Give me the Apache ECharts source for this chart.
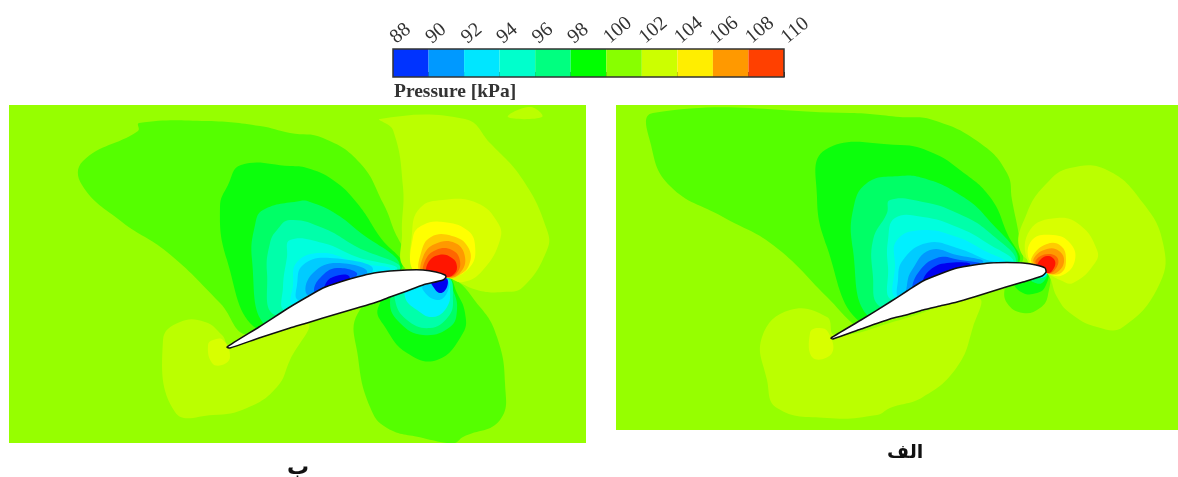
<!DOCTYPE html>
<html><head><meta charset="utf-8">
<style>html,body{margin:0;padding:0;background:#fff}#c{width:1178px;height:477px;filter:blur(0.7px)}</style>
<script src="https://cdn.jsdelivr.net/npm/echarts@6/dist/echarts.min.js"></script>
</head><body><div id="c"></div>
<script>
// Colour bar
const pressureTicks = [88,90,92,94,96,98,100,102,104,106,108,110];
const legendColors = ['#0033ff','#0099ff','#00e6ff','#00ffcc','#00ff80','#00ff00','#88ff00','#ccff00','#ffee00','#ff9900','#ff4000'];
const tickLabels = pressureTicks.map(String);
const panelBackground = '#96ff00';

// Contour colours, low to high pressure
const cB0='#0000f0', cB1='#0050ff', cB2='#0099ff', cB3='#00ccff', cC='#00f0ff', cT1='#00ffdd', cT2='#00ffaa', cG3='#00ff66', cG2='#0cff0c', cG1='#55ff00';
const cY1='#bbff00', cY2='#d8ff00', cY3='#ffff00', cO1='#ffcc00', cO2='#ff9900', cO3='#ff6600', cR='#ff1500';

// Panel "ب" contours, panel units
const bUp1=[[130,18],[198,16],[251,21],[281,28],[314,33],[351,58],[374,98],[383,120],[396,163],[351,185],[291,207],[239,230],[211,198],[158,147],[113,117],[73,80],[74,56],[129,26]];
const bUp2=[[232,60],[281,61],[298,63],[324,75],[348,98],[371,132],[393,163],[342,185],[291,207],[248,224],[218,155],[211,102],[219,80]];
const bUp3=[[254,105],[291,96],[301,97],[324,107],[348,125],[391,163],[341,185],[291,205],[256,220],[243,155],[246,120]];
const bUp4=[[268,125],[281,115],[314,123],[348,142],[391,165],[321,195],[266,210],[258,168],[261,138]];
const bUp5=[[278,152],[281,135],[314,138],[348,152],[388,165],[321,190],[276,205],[274,182]];
const bUp6=[[288,157],[314,148],[348,158],[381,165],[321,190],[284,200],[284,180]];
const bUp7=[[294,160],[321,153],[364,165],[311,190],[289,195],[288,180]];
const bUp8=[[304,168],[328,158],[358,168],[311,190],[297,188]];
const bUp9=[[311,173],[328,163],[348,170],[311,188],[305,186]];
const bUp10=[[316,180],[324,172],[340,171],[336,182],[316,188]];
const bLow1=[[349,208],[349,252],[361,302],[378,323],[414,333],[438,338],[446,338],[454,332],[491,315],[496,278],[488,232],[471,202],[438,172],[391,180]];
const bLow2=[[369,203],[376,222],[398,248],[428,255],[454,228],[456,208],[448,188],[438,172],[391,180]];
const bLow3=[[381,198],[391,218],[414,230],[441,222],[448,205],[444,185],[436,172],[391,180]];
const bLow4=[[386,195],[398,215],[421,223],[439,212],[444,195],[438,172],[391,180]];
const bLow5=[[396,192],[408,205],[424,212],[438,202],[441,185],[437,173],[401,178]];
const bLow6=[[414,185],[428,195],[438,188],[438,175],[416,178]];
const bLow7=[[423,180],[431,188],[438,182],[437,173],[423,177]];
const bHigh0=[[499,12],[521,2],[533,12]];
const bHigh1=[[371,14],[456,14],[481,38],[514,75],[538,125],[538,145],[514,182],[494,187],[468,185],[438,172],[396,163],[393,128],[394,82],[384,25]];
const bHigh2=[[411,103],[434,95],[468,98],[489,118],[491,135],[474,165],[454,177],[438,172],[406,165],[403,128]];
const bHigh3=[[404,132],[414,120],[434,117],[458,125],[466,140],[461,162],[438,173],[406,168]];
const bHigh4=[[412,148],[422,132],[443,131],[459,142],[460,160],[447,172],[438,173],[412,168]];
const bHigh5=[[414,152],[426,139],[446,138],[456,152],[451,168],[438,173],[414,170]];
const bHigh6=[[416,156],[427,145],[443,145],[451,156],[447,169],[437,172],[416,170]];
const bHigh7=[[419,158],[430,150],[443,153],[448,162],[444,170],[437,172],[419,170]];
const bTail1=[[171,217],[196,217],[213,230],[221,240],[298,218],[281,255],[268,282],[238,303],[204,310],[166,307],[154,235]];
const bTail2=[[199,240],[204,235],[214,235],[221,252],[213,260],[203,258]];
const bFoil=[[218,242],[250,222],[281,202],[298,192],[314,183],[331,177],[348,172],[365,168],[381,166],[398,165],[414,165],[427,167],[436,170],[437,172],[434,175],[414,180],[398,186],[381,192],[365,198],[348,203],[331,208],[314,213],[298,218],[281,223],[250,233],[221,243]];

// Panel "الف" contours, panel units
const aUp1=[[37,8],[234,8],[284,12],[317,15],[364,38],[391,68],[396,95],[404,138],[404,159],[344,180],[284,202],[242,220],[236,218],[211,192],[157,140],[107,112],[54,81],[35,40]];
const aUp2=[[209,45],[284,40],[317,48],[344,65],[374,92],[391,128],[402,159],[344,180],[284,202],[244,217],[211,142],[201,92]];
const aUp3=[[251,78],[284,71],[307,73],[341,88],[371,113],[401,159],[344,180],[284,200],[251,210],[237,145],[237,105]];
const aUp4=[[271,108],[274,95],[307,97],[341,108],[374,128],[399,159],[344,180],[284,200],[262,200],[257,172],[257,135]];
const aUp5=[[279,113],[307,112],[341,122],[371,138],[397,159],[344,180],[277,195],[272,162],[272,135]];
const aUp6=[[281,135],[307,125],[341,132],[367,145],[389,159],[334,180],[281,193],[279,160]];
const aUp7=[[287,155],[311,138],[341,143],[371,155],[384,159],[324,180],[284,193],[282,175]];
const aUp8=[[296,165],[314,145],[341,150],[367,158],[314,180],[292,190],[291,180]];
const aUp9=[[302,168],[321,153],[344,155],[364,160],[309,180],[297,185]];
const aUp10=[[306,178],[314,165],[331,158],[354,160],[309,180]];
const aLow1=[[389,182],[391,198],[407,208],[424,203],[432,190],[431,168],[394,180]];
const aLow2=[[399,178],[407,188],[421,188],[429,182],[431,168]];
const aLow3=[[417,177],[426,178],[431,168],[414,173]];
const aLow4=[[424,173],[430,171],[431,167]];
const aHigh1=[[454,63],[491,65],[527,98],[547,138],[544,178],[507,222],[481,222],[454,208],[441,192],[431,168],[404,145],[411,108],[431,78]];
const aHigh2=[[414,125],[441,113],[464,120],[481,145],[479,158],[457,178],[444,175],[431,168],[412,157]];
const aHigh3=[[416,135],[437,130],[454,138],[459,155],[447,170],[431,168],[414,157]];
const aHigh4=[[416,152],[431,139],[445,141],[450,155],[445,168],[431,168],[418,161]];
const aHigh5=[[418,153],[431,144],[443,146],[448,157],[440,168],[431,168],[420,161]];
const aHigh6=[[420,155],[432,149],[442,154],[438,166],[430,168],[422,162]];
const aHigh7=[[422,158],[431,151],[439,156],[436,166],[430,168],[422,165]];
const aTail1=[[174,205],[211,212],[219,230],[284,215],[362,193],[357,222],[341,262],[307,292],[274,303],[261,310],[211,313],[161,303],[151,275],[146,232]];
const aTail2=[[194,228],[202,223],[212,227],[216,248],[197,253]];
const aFoil=[[215,233],[245,215],[274,197],[291,186],[307,176],[324,169],[341,163],[358,160],[374,158],[391,157.5],[407,158],[420,160],[429,163],[430,167],[426,171],[407,177],[390,182],[374,187],[358,192],[341,197],[324,201],[307,205],[290,210],[274,214],[245,224],[217,234]];

const panelB=[[bUp1,cG1],[bUp2,cG2],[bUp3,cG3],[bUp4,cT2],[bUp5,cT1],[bUp6,cC],[bUp7,cB3],[bUp8,cB2],[bUp9,cB1],[bUp10,cB0],
  [bLow1,cG1],[bLow2,cG2],[bLow3,cG3],[bLow4,cT2],[bLow5,cC],[bLow6,cB3],[bLow7,cB0],
  [bHigh0,cY1],[bHigh1,cY1],[bHigh2,cY2],[bHigh3,cY3],[bHigh4,cO1],[bHigh5,cO2],[bHigh6,cO3],[bHigh7,cR],
  [bTail1,cY1],[bTail2,cY2]];
const panelA=[[aUp1,cG1],[aUp2,cG2],[aUp3,cG3],[aUp4,cT2],[aUp5,cT1],[aUp6,cC],[aUp7,cB3],[aUp8,cB2],[aUp9,cB1],[aUp10,cB0],
  [aLow1,cG1],[aLow2,cG2],[aLow3,cG3],[aLow4,cC],
  [aHigh1,cY1],[aHigh2,cY2],[aHigh3,cY3],[aHigh4,cO1],[aHigh5,cO2],[aHigh6,cO3],[aHigh7,cR],
  [aTail1,cY1],[aTail2,cY2]];

function contourSeries(idx, bands, foil, w, h){
  const items=[{pts:[[0,0],[w,0],[w,h],[0,h]],fill:panelBackground,smooth:0}]
    .concat(bands.map(b=>({pts:b[0],fill:b[1],smooth:0.45})))
    .concat([{pts:foil,fill:'#fff',stroke:'#111',smooth:0.2}]);
  return {type:'custom',coordinateSystem:'cartesian2d',xAxisIndex:idx,yAxisIndex:idx,clip:true,silent:true,
    data:items.map((_,i)=>[i]),
    renderItem(p,api){
      const it=items[api.value(0)];
      return {type:'polygon',shape:{points:it.pts.map(q=>api.coord(q)),smooth:it.smooth},
        style:{fill:it.fill,stroke:it.stroke||null,lineWidth:it.stroke?1.5:0}};
    }};
}
const barCells=legendColors.map((c,i)=>[pressureTicks[i],pressureTicks[i+1],c]);
const hiddenAxis=(i,max,inv)=>({gridIndex:i,type:'value',min:0,max,inverse:!!inv,show:false});

const chart=echarts.init(document.getElementById('c'),null,{renderer:'canvas'});
chart.setOption({
  animation:false,backgroundColor:'#fff',
  title:[
    {text:'Pressure [kPa]',left:394,top:82,padding:0,textStyle:{fontFamily:'Liberation Serif',fontSize:19.5,fontWeight:'bold',color:'#333'}},
    {text:'ب',left:287,top:457,padding:0,textStyle:{fontFamily:'DejaVu Sans',fontSize:22,fontWeight:'bold',color:'#111'}},
    {text:'الف',left:887,top:444,padding:0,textStyle:{fontFamily:'DejaVu Sans',fontSize:19,fontWeight:'bold',color:'#111'}}
  ],
  grid:[
    {left:9,top:105,width:577,height:338},
    {left:616,top:105,width:562,height:325},
    {left:393,top:49,width:391,height:28}
  ],
  xAxis:[hiddenAxis(0,577),hiddenAxis(1,562),
    {gridIndex:2,type:'value',position:'top',min:88,max:110,interval:2,
     axisLine:{show:false},axisTick:{show:true,length:5,lineStyle:{color:'#333',width:1}},splitLine:{show:false},
     axisLabel:{rotate:40,margin:9,fontFamily:'Liberation Serif',fontSize:20,color:'#333',showMinLabel:true,showMaxLabel:true,
       formatter:v=>tickLabels[pressureTicks.indexOf(v)]}}],
  yAxis:[hiddenAxis(0,338,true),hiddenAxis(1,325,true),hiddenAxis(2,1)],
  series:[
    contourSeries(0,panelB,bFoil,577,338),
    contourSeries(1,panelA,aFoil,562,325),
    {type:'custom',coordinateSystem:'cartesian2d',xAxisIndex:2,yAxisIndex:2,silent:true,
     data:barCells.map((c,i)=>[c[0],c[1],i]),
     renderItem(p,api){
       const a=api.coord([api.value(0),1]),b=api.coord([api.value(1),0]);
       return {type:'rect',shape:{x:a[0],y:a[1],width:b[0]-a[0],height:b[1]-a[1]},style:{fill:barCells[api.value(2)][2]}};
     }},
    {type:'custom',coordinateSystem:'cartesian2d',xAxisIndex:2,yAxisIndex:2,silent:true,z:5,
     data:[[88,110]],
     renderItem(p,api){
       const a=api.coord([api.value(0),1]),b=api.coord([api.value(1),0]);
       return {type:'rect',shape:{x:a[0],y:a[1],width:b[0]-a[0],height:b[1]-a[1]},style:{fill:null,stroke:'#333',lineWidth:1.5}};
     }}
  ]
});
</script></body></html>
